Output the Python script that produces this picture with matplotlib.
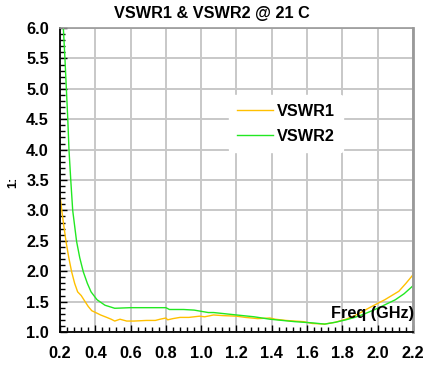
import matplotlib.pyplot as plt
from matplotlib.ticker import MultipleLocator

plt.rcParams['font.family'] = ['Liberation Sans', 'DejaVu Sans']
plt.rcParams['font.weight'] = 'bold'

# values
freq1 = [0.2, 0.21, 0.222, 0.234, 0.25, 0.266, 0.283, 0.30, 0.32, 0.342, 0.36,
         0.38, 0.402, 0.43, 0.465, 0.49, 0.51, 0.54, 0.578, 0.62, 0.69, 0.74,
         0.767, 0.8, 0.81, 0.84, 0.88, 0.93, 0.99, 1.02, 1.07, 1.12, 1.2, 1.25,
         1.32, 1.39, 1.42, 1.48, 1.53, 1.58, 1.63, 1.70, 1.76, 1.82, 1.87, 1.91,
         1.96, 2.0, 2.04, 2.08, 2.12, 2.16, 2.2]
vswr1 = [3.25, 3.0, 2.74, 2.49, 2.22, 1.99, 1.8, 1.66, 1.6, 1.5, 1.42,
         1.35, 1.32, 1.28, 1.24, 1.21, 1.18, 1.21, 1.18, 1.18, 1.19, 1.19,
         1.21, 1.23, 1.2, 1.22, 1.24, 1.24, 1.26, 1.25, 1.28, 1.27, 1.26, 1.24,
         1.22, 1.23, 1.21, 1.19, 1.18, 1.17, 1.14, 1.13, 1.16, 1.21, 1.27, 1.33,
         1.41, 1.47, 1.53, 1.6, 1.67, 1.8, 1.94]

freq2 = [0.2, 0.219, 0.228, 0.244, 0.251, 0.261, 0.272, 0.294, 0.312, 0.332, 0.355,
         0.376, 0.41, 0.455, 0.51, 0.6, 0.7, 0.8, 0.82, 0.9, 0.96, 1.0, 1.04,
         1.07, 1.2, 1.3, 1.39, 1.46, 1.53, 1.63, 1.70, 1.76, 1.82, 1.87, 1.91,
         1.96, 2.0, 2.05, 2.1, 2.15, 2.2]
vswr2 = [7.0, 6.0, 5.5, 4.51, 3.99, 3.5, 3.0, 2.49, 2.22, 1.99, 1.8,
         1.66, 1.53, 1.44, 1.39, 1.4, 1.4, 1.4, 1.37, 1.37, 1.36, 1.34, 1.32,
         1.32, 1.28, 1.25, 1.21, 1.19, 1.17, 1.15, 1.13, 1.16, 1.2, 1.24, 1.28,
         1.34, 1.39, 1.46, 1.53, 1.63, 1.76]

xticks = [0.2, 0.4, 0.6, 0.8, 1.0, 1.2, 1.4, 1.6, 1.8, 2.0, 2.2]
yticks = [1.0, 1.5, 2.0, 2.5, 3.0, 3.5, 4.0, 4.5, 5.0, 5.5, 6.0]

fig = plt.figure(figsize=(4.24, 3.69), dpi=100)
ax = fig.add_axes([0.1415, 0.1003, 0.8325, 0.8237])

ax.plot(freq1, vswr1, color='#FFC000', lw=1.0, label='VSWR1')
ax.plot(freq2, vswr2, color='#22E822', lw=1.0, label='VSWR2')

ax.set_xlim(0.2, 2.2)
ax.set_ylim(1.0, 6.0)
ax.set_xticks(xticks)
ax.set_yticks(yticks)
ax.set_xticklabels(['%.1f' % t for t in xticks])
ax.set_yticklabels(['%.1f' % t for t in yticks])
ax.xaxis.set_minor_locator(MultipleLocator(0.04))
ax.yaxis.set_minor_locator(MultipleLocator(0.1))
ax.tick_params(which='major', direction='in', length=5, width=1, labelsize=11.7)
ax.tick_params(which='minor', direction='in', length=3.5, width=1)
ax.tick_params(axis='x', which='major', pad=10)
ax.tick_params(axis='y', which='major', pad=8)
ax.grid(True, which='major', color='#C8C8C8', lw=1.4)
ax.set_axisbelow(True)

for s in ['left', 'bottom']:
    ax.spines[s].set_color('black')
    ax.spines[s].set_linewidth(1.3)
ax.spines['top'].set_color('#999999')
ax.spines['top'].set_linewidth(1.2)
ax.spines['right'].set_color('#999999')
ax.spines['right'].set_linewidth(2)

leg = ax.legend(loc='upper left', bbox_to_anchor=(0.455, 0.805), frameon=True,
                fontsize=11.7, handlelength=2.2, handletextpad=0.25,
                labelspacing=0.65, borderpad=0.5)
leg.get_frame().set_edgecolor('white')
leg.get_frame().set_facecolor('white')
leg.get_frame().set_alpha(1)

ax.text(1.003, 0.062, 'Freq (GHz)', transform=ax.transAxes, ha='right', va='center',
        fontsize=11.7, fontweight='bold')
fig.text(0.032, 0.505, '1:', rotation=90, fontsize=9, fontweight='bold',
         ha='center', va='center')
fig.text(0.5, 0.963, 'VSWR1 & VSWR2 @ 21 C', ha='center', va='center',
         fontsize=11.7, fontweight='bold')

fig.savefig('out.png', dpi=100)
